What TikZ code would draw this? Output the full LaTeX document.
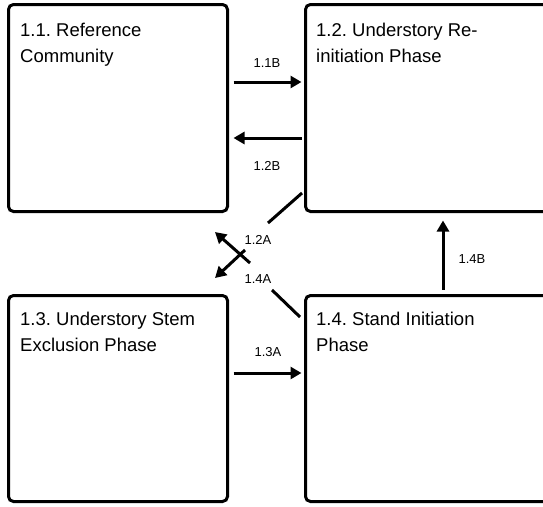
\documentclass[tikz,border=0pt]{standalone}
\usepackage{fontspec}
\setmainfont{Liberation Sans}
\usetikzlibrary{arrows.meta,positioning}
\frenchspacing

\tikzset{
	phase/.style={draw, line width=3pt, rounded corners=5pt, anchor=north west,
		minimum width=219pt, minimum height=207pt, inner sep=0pt, outer sep=0pt},
	phasetitle/.style={anchor=north west, align=left, inner sep=0pt,
		font=\fontsize{18.5}{26}\selectfont},
	conn/.style={line width=3pt},
	arr/.style={conn, -{Triangle[length=11pt,width=12pt]}},
	lbl/.style={inner sep=1pt, font=\fontsize{13}{15}\selectfont}
}

\begin{document}
\begin{tikzpicture}[x=1pt,y=-1pt]
	
	\useasboundingbox (0,0) rectangle (543,506);
	\clip (0,0) rectangle (543,506);
	
	% phases
	\node[phase] (p11) at (8.5,4.5) {};
	\node[phase, minimum width=260pt] (p12) at (305.5,4.5) {};
	\node[phase, minimum height=206pt] (p13) at (8.5,295.5) {};
	\node[phase, minimum width=260pt, minimum height=206pt] (p14) at (305.5,295.5) {};
	
	\node[phasetitle] (t11) at (20,23) {1.1. Reference\\Community};
	\node[phasetitle] (t12) at (316,23) {1.2. Understory Re-\\initiation Phase};
	\node[phasetitle] (t13) at (20,311.5) {1.3. Understory Stem\\Exclusion Phase};
	\node[phasetitle] (t14) at (316,311.5) {1.4. Stand Initiation\\Phase};
	
	% horizontal transitions
	\draw[arr] ([xshift=6pt]p11.east |- 0,82) -- ([xshift=-4pt]p12.west |- 0,82);
	\node[lbl] (l11b) at (267,63) {1.1B};
	
	\draw[arr] ([xshift=-4pt]p12.west |- 0,138) -- ([xshift=6pt]p11.east |- 0,138);
	\node[lbl] (l12b) at (267,166) {1.2B};
	
	\draw[arr] ([xshift=6pt]p13.east |- 0,373) -- ([xshift=-4pt]p14.west |- 0,373);
	\node[lbl] (l13a) at (268,352) {1.3A};
	
	% vertical transition
	\draw[arr] ([yshift=6pt]p14.north -| 443,0) -- ([yshift=-9pt]p12.south -| 443,0);
	\node[lbl] (l14b) at (472,259) {1.4B};
	
	% diagonal transitions
	\coordinate (a1) at (302,193);
	\coordinate (a2) at (268,223);
	\coordinate (a3) at (245,250);
	\coordinate (a4) at (215,278);
	\draw[conn] (a1) -- (a2);
	\draw[arr] (a3) -- (a4);
	\node[lbl] (l12a) at (258,240) {1.2A};
	
	\coordinate (b1) at (300,317);
	\coordinate (b2) at (272,290);
	\coordinate (b3) at (250,263);
	\coordinate (b4) at (215,232);
	\draw[conn] (b1) -- (b2);
	\draw[arr] (b3) -- (b4);
	\node[lbl] (l14a) at (258,279) {1.4A};
	
\end{tikzpicture}
\end{document}
